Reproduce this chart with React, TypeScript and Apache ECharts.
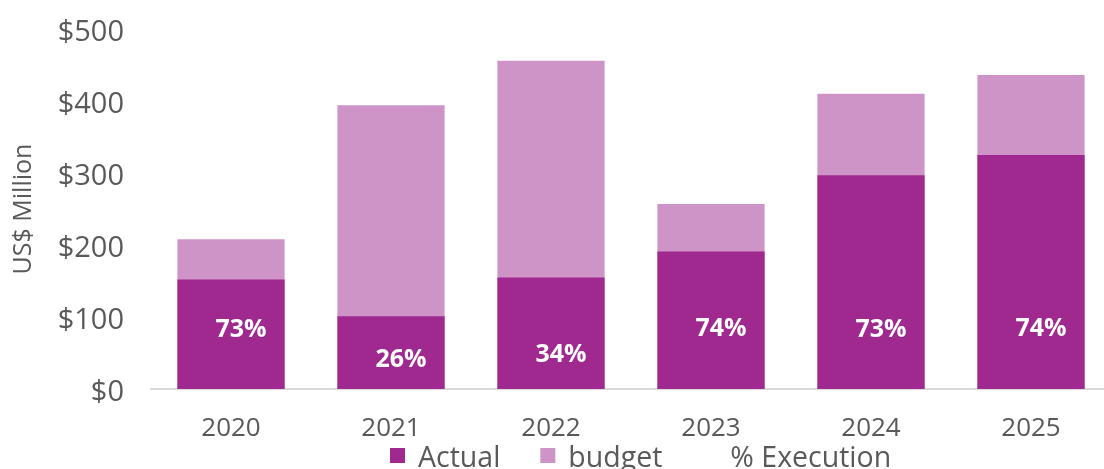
import React, { useEffect, useRef } from "react";
import * as echarts from "echarts";

const categories = ["2020", "2021", "2022", "2023", "2024", "2025"];
const actual = [152, 101, 155, 191, 297, 325];
const budget = [208, 394, 456, 257, 410, 436];
const execution = [73, 26, 34, 74, 73, 74];

const DARK = "#A0298F";
const LIGHT = "#CE93C7";
const GREY = "#595959";
const FONT = "'Open Sans', 'Noto Sans', Arial, sans-serif";

export default function App() {
  const ref = useRef<HTMLDivElement>(null);
  useEffect(() => {
    if (!ref.current) return;
    const chart = echarts.init(ref.current, undefined, { renderer: "svg" });
    chart.setOption({
      animation: false,
      textStyle: { fontFamily: FONT },
      grid: { left: 145, right: 0, top: 29, bottom: 80, containLabel: false },
      legend: {
        bottom: -6,
        left: 385,
        itemWidth: 15,
        itemHeight: 15,
        itemGap: 40,
        textStyle: { color: GREY, fontSize: 28.5, padding: [0, 0, 0, 8], fontFamily: FONT },
        data: [
          { name: "Actual", icon: "rect" },
          { name: "budget", icon: "rect" },
          { name: "% Execution", icon: "rect", itemStyle: { color: "rgba(0,0,0,0)" } },
        ],
      },
      xAxis: {
        type: "category",
        data: categories,
        axisLine: { lineStyle: { color: "#D9D9D9", width: 2 } },
        axisTick: { show: false },
        axisLabel: { color: GREY, fontSize: 26, margin: 24, fontFamily: FONT },
      },
      yAxis: [
        {
          type: "value",
          min: 0,
          max: 500,
          interval: 100,
          name: "US$ Million",
          nameLocation: "middle",
          nameGap: 118,
          nameTextStyle: { color: GREY, fontSize: 25, fontFamily: FONT },
          axisLabel: {
            color: GREY,
            fontSize: 29,
            margin: 27,
            formatter: (v: number) => "$" + v,
            fontFamily: FONT,
          },
          axisLine: { show: false },
          axisTick: { show: false },
          splitLine: { show: false },
        },
        {
          type: "value",
          min: -24,
          max: 540,
          show: false,
          splitLine: { show: false },
        },
      ],
      series: [
        {
          name: "budget",
          type: "bar",
          data: budget,
          barWidth: "67%",
          barGap: "-100%",
          itemStyle: { color: LIGHT },
        },
        {
          name: "Actual",
          type: "bar",
          data: actual,
          barWidth: "67%",
          barGap: "-100%",
          itemStyle: { color: DARK },
        },
        {
          name: "% Execution",
          type: "scatter",
          yAxisIndex: 1,
          data: execution,
          symbol: "circle",
          symbolSize: 2,
          itemStyle: { color: "rgba(0,0,0,0)", opacity: 1 },
          label: {
            show: true,
            position: "inside",
            offset: [10, 0],
            formatter: (p: any) => p.value + "%",
            color: "#FFFFFF",
            opacity: 1,
            textBorderWidth: 0,
            fontWeight: "bold",
            fontSize: 25,
            fontFamily: FONT,
          },
          z: 5,
        },
      ],
    });
    return () => chart.dispose();
  }, []);
  return (
    <div
      ref={ref}
      style={{ position: "fixed", left: 0, top: 0, width: 1111, height: 469 }}
    />
  );
}
